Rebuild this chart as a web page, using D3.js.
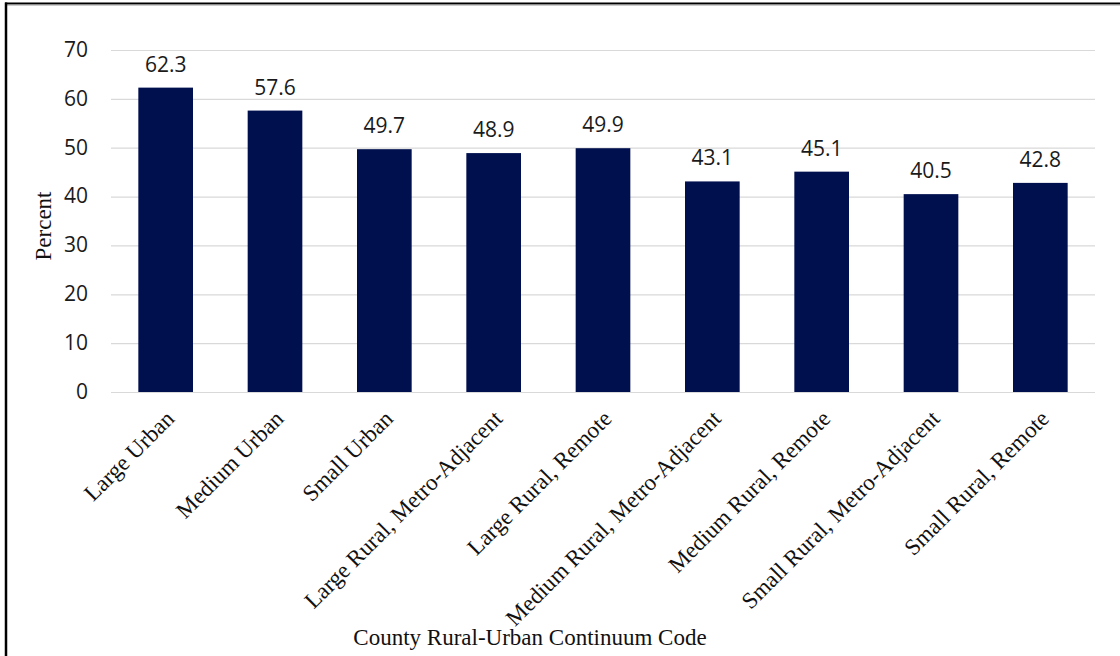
<!DOCTYPE html>
<html>
<head>
<meta charset="utf-8">
<script src="https://cdn.jsdelivr.net/npm/d3@7"></script>
<style>
  html, body { margin: 0; padding: 0; background: #fff; }
  svg { display: block; }
</style>
</head>
<body>
<svg id="chart" width="1120" height="656"></svg>
<script>
// Share of counties by rural-urban continuum code
const categories = [
  "Large Urban",
  "Medium Urban",
  "Small Urban",
  "Large Rural, Metro-Adjacent",
  "Large Rural, Remote",
  "Medium Rural, Metro-Adjacent",
  "Medium Rural, Remote",
  "Small Rural, Metro-Adjacent",
  "Small Rural, Remote"
];
const values = [62.3, 57.6, 49.7, 48.9, 49.9, 43.1, 45.1, 40.5, 42.8];
const yTicks = [0, 10, 20, 30, 40, 50, 60, 70];
const xTitle = "County Rural-Urban Continuum Code";
const yTitle = "Percent";

const W = 1120, H = 656;
const plot = { left: 111, right: 1095, top: 50, bottom: 392 };
const barColor = "#00104f";
const gridColor = "#d9d9d9";
const sansFont = "'Open Sans', 'Noto Sans', sans-serif";
const serifFont = "'Liberation Serif', 'DejaVu Serif', serif";
const serifSize = 23;

const svg = d3.select("#chart");

// Frame lines along the top and left edges
svg.append("line")
  .attr("x1", 5).attr("x2", W).attr("y1", 3.5).attr("y2", 3.5)
  .attr("stroke", "#000").attr("stroke-width", 2);
svg.append("line")
  .attr("x1", W).attr("x2", 5).attr("y1", 5).attr("y2", 5)
  .attr("stroke", "#999").attr("stroke-width", 1);
svg.append("line")
  .attr("x1", 6).attr("x2", 6).attr("y1", 2.5).attr("y2", H)
  .attr("stroke", "#000").attr("stroke-width", 2.5);

const x = d3.scaleBand()
  .domain(categories)
  .range([plot.left, plot.right])
  .paddingInner(0.5)
  .paddingOuter(0.25);

const y = d3.scaleLinear()
  .domain([0, 70])
  .range([plot.bottom, plot.top]);

// Horizontal gridlines and value axis labels
const yAxis = d3.axisLeft(y)
  .tickValues(yTicks)
  .tickSize(-(plot.right - plot.left))
  .tickPadding(23)
  .tickFormat(d3.format("d"));

const gy = svg.append("g")
  .attr("transform", `translate(${plot.left},0)`)
  .call(yAxis);
gy.select(".domain").remove();
gy.selectAll(".tick line")
  .attr("stroke", gridColor)
  .attr("stroke-width", 1.2);
gy.selectAll(".tick text")
  .attr("font-family", sansFont)
  .attr("font-size", 21)
  .attr("fill", "#1a1a1a")
  .attr("dy", "0.3em");

// Bars
svg.append("g")
  .selectAll("rect")
  .data(values)
  .join("rect")
  .attr("x", (d, i) => x(categories[i]))
  .attr("width", x.bandwidth())
  .attr("y", d => y(d))
  .attr("height", d => y(0) - y(d))
  .attr("fill", barColor);

// Value labels above bars
svg.append("g")
  .selectAll("text")
  .data(values)
  .join("text")
  .attr("x", (d, i) => x(categories[i]) + x.bandwidth() / 2)
  .attr("y", d => y(d) - 16)
  .attr("text-anchor", "middle")
  .attr("font-family", sansFont)
  .attr("font-size", 21)
  .attr("fill", "#1a1a1a")
  .text(d => d.toFixed(1));

// Category labels, rotated 45 degrees
const xAxis = d3.axisBottom(x).tickSize(0).tickPadding(0);
const gx = svg.append("g")
  .attr("transform", `translate(0,${plot.bottom})`)
  .call(xAxis);
gx.select(".domain")
  .attr("stroke", gridColor)
  .attr("stroke-width", 1.2)
  .attr("d", `M${plot.left},0.5H${plot.right}`);
gx.selectAll(".tick text")
  .attr("font-family", serifFont)
  .attr("font-size", serifSize)
  .attr("fill", "#111")
  .attr("text-anchor", "end")
  .attr("y", 0)
  .attr("dy", 0)
  .attr("transform", "translate(10,28) rotate(-45)");

// Axis titles
svg.append("text")
  .attr("x", 530)
  .attr("y", 645)
  .attr("text-anchor", "middle")
  .attr("font-family", serifFont)
  .attr("font-size", serifSize)
  .attr("fill", "#111")
  .text(xTitle);

svg.append("text")
  .attr("transform", "translate(51,226) rotate(-90)")
  .attr("text-anchor", "middle")
  .attr("font-family", serifFont)
  .attr("font-size", serifSize)
  .attr("fill", "#111")
  .text(yTitle);
</script>
</body>
</html>
